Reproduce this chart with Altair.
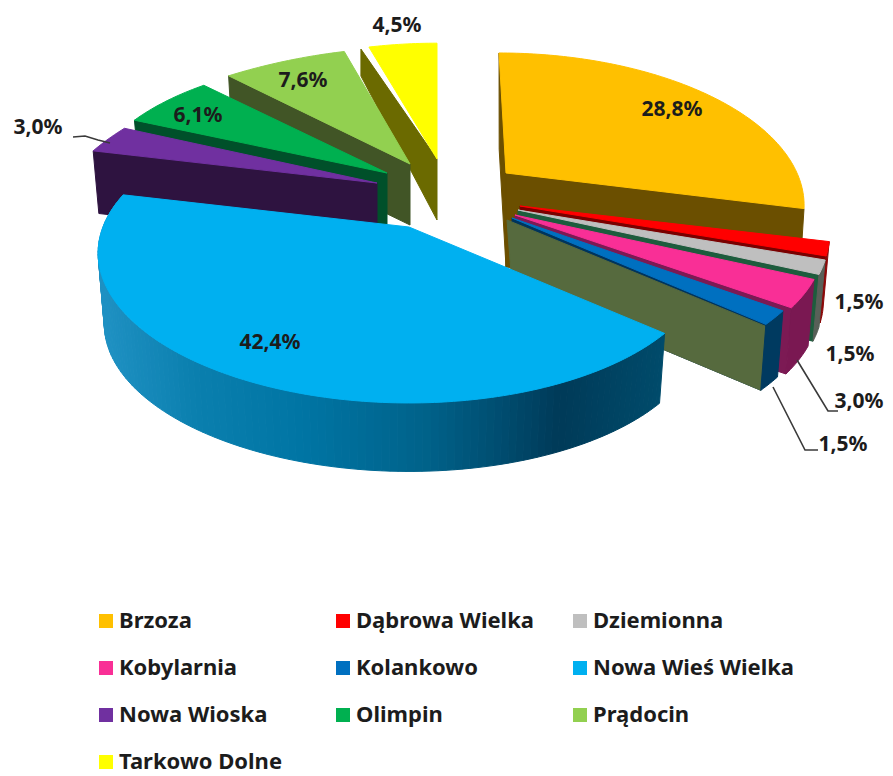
import math
import altair as alt

categories = ["Brzoza", "Dąbrowa Wielka", "Dziemionna", "Kobylarnia", "Kolankowo",
              "Nowa Wieś Wielka", "Nowa Wioska", "Olimpin", "Prądocin", "Tarkowo Dolne"]
shares = [28.8, 1.5, 1.5, 3.0, 1.5, 42.4, 3.0, 6.1, 7.6, 4.5]
face_colors = ["#FFC000", "#FF0000", "#BFBFBF", "#F92F96", "#0070C0",
               "#00B0F0", "#7030A0", "#00B050", "#92D050", "#FFFF00"]

PERSP = 0.189
RY = 142.7
BASE = 0.98
#  apex x, apex y, rx at start, rx at end, lean, wall depth, vertical squeeze
GEOM = {
    "Brzoza": (506, 173, 291, 291, 0.058, 94, 1),
    "Dąbrowa Wielka": (520, 206, 304, 304, 0, 68, 1),
    "Dziemionna": (518, 210, 305, 305, 0, 68, 1),
    "Kobylarnia": (515, 215, 303, 302, 0, 68, 1),
    "Kolankowo": (512, 218, 296, 294, 0, 68, 1),
    "Nowa Wieś Wielka": (409, 227, 296, 307, 0, 72, 1),
    "Nowa Wioska": (377, 183, 305, 299, 0, 62, 1),
    "Olimpin": (387, 173, 299, 302, 0, 54, 0.965),
    "Prądocin": (410, 164, 299, 278, 0, 61, 0.97),
    "Tarkowo Dolne": (437, 159, 288, 288, 0, 61, 0.965),
}
RADIAL_SHADE = {
    "Brzoza": "#6B4F00", "Dąbrowa Wielka": "#7A0000", "Dziemionna": "#1D5C3D",
    "Kobylarnia": "#7C1A54", "Kolankowo": "#00345C", "Nowa Wioska": "#2E1340",
    "Olimpin": "#00502A", "Prądocin": "#415526", "Tarkowo Dolne": "#6B6A00",
}
OUTER_SHADE = {"Dąbrowa Wielka": "#8A0808", "Dziemionna": "#586058",
               "Kobylarnia": "#7A1852", "Kolankowo": "#003A60"}
KOLANKOWO_SIDE = "#566A3E"
BLUE_RAMP = [(95, (32, 146, 196)), (195, (10, 127, 174)), (300, (0, 117, 164)),
             (425, (0, 98, 138)), (500, (0, 77, 112)), (560, (0, 58, 88)),
             (670, (0, 76, 108))]
BACK_TO_FRONT = ["Tarkowo Dolne", "Prądocin", "Olimpin", "Nowa Wioska", "Brzoza",
                 "Dąbrowa Wielka", "Dziemionna", "Kobylarnia", "Kolankowo", "Nowa Wieś Wielka"]

LABEL_POS = {
    "Brzoza": (672, 110), "Dąbrowa Wielka": (859, 303), "Dziemionna": (850, 355),
    "Kobylarnia": (859, 402), "Kolankowo": (843, 445), "Nowa Wieś Wielka": (270, 343),
    "Nowa Wioska": (38, 128), "Olimpin": (198, 116), "Prądocin": (303, 81),
    "Tarkowo Dolne": (397, 26),
}
LEADERS = {
    "a": [(73, 137), (85, 136), (98, 140), (110, 143)],
    "b": [(797, 360), (828, 411), (838, 411)],
    "c": [(773, 387), (805, 450), (818, 450)],
}

total = sum(shares)
angles = {}
acc = 0.0
for c, s in zip(categories, shares):
    angles[c] = (acc / total * 360, (acc + s) / total * 360)
    acc += s


def rim(cat, deg, bottom=False):
    ax, ay, r0, r1, lean, depth, squeeze = GEOM[cat]
    a0, a1 = angles[cat]
    t = (deg - a0) / (a1 - a0)
    rx = r0 + (r1 - r0) * t
    th = math.radians(deg)
    sc = 1 / (1 + PERSP * math.cos(th))
    dx = rx * math.sin(th) * sc
    dy = -RY * squeeze * math.cos(th) * sc
    dx += lean * dy
    if bottom:
        return (ax + dx * BASE, ay + dy * BASE + depth)
    return (ax + dx, ay + dy)


def apex(cat, bottom=False):
    ax, ay, _, _, _, depth, _ = GEOM[cat]
    return (ax, ay + depth) if bottom else (ax, ay)


def steps(a0, a1, n):
    return [a0 + (a1 - a0) * i / n for i in range(n + 1)]


features = []


def add(points, fill):
    ring = [[round(x, 2), round(y, 2)] for x, y in points]
    ring.append(ring[0])
    features.append({"type": "Feature", "properties": {"fill": fill},
                     "geometry": {"type": "Polygon", "coordinates": [ring]}})


def ramp(x):
    for (x0, c0), (x1, c1) in zip(BLUE_RAMP, BLUE_RAMP[1:]):
        if x <= x1:
            t = max(0, (x - x0) / (x1 - x0))
            return "#%02x%02x%02x" % tuple(round(p + (q - p) * t) for p, q in zip(c0, c1))
    return "#%02x%02x%02x" % BLUE_RAMP[-1][1]


for cat in BACK_TO_FRONT:
    a0, a1 = angles[cat]
    if cat == "Nowa Wieś Wielka":
        grid = steps(a0, a1, 120)
        for p, q in zip(grid, grid[1:]):
            top_p, top_q = rim(cat, p), rim(cat, q)
            add([top_p, top_q, rim(cat, q, True), rim(cat, p, True)],
                ramp((top_p[0] + top_q[0]) / 2))
    elif cat == "Brzoza":
        add([rim(cat, a0), apex(cat), apex(cat, True), rim(cat, a0, True)], RADIAL_SHADE[cat])
        add([apex(cat), rim(cat, a1), rim(cat, a1, True), apex(cat, True)], RADIAL_SHADE[cat])
    elif cat == "Tarkowo Dolne":
        c_top = rim(cat, a0)
        add([(c_top[0] - 8, c_top[1] + 2), apex(cat), apex(cat, True),
             (c_top[0] - 8, c_top[1] + 29)], RADIAL_SHADE[cat])
    elif cat in ("Prądocin", "Olimpin", "Nowa Wioska"):
        add([rim(cat, a0), apex(cat), apex(cat, True), rim(cat, a0, True)], RADIAL_SHADE[cat])
    else:
        if cat == "Kolankowo":
            add([apex(cat), rim(cat, a1), rim(cat, a1, True), apex(cat, True)], RADIAL_SHADE[cat])
            add([(apex(cat)[0] - 5, apex(cat)[1] + 2), (rim(cat, a1)[0], rim(cat, a1)[1] + 2),
                 rim(cat, a1, True), apex(cat, True)], KOLANKOWO_SIDE)
        else:
            add([apex(cat), rim(cat, a1), rim(cat, a1, True), apex(cat, True)], RADIAL_SHADE[cat])
        grid = steps(a0, a1, 6)
        add([rim(cat, d) for d in grid] + [rim(cat, d, True) for d in reversed(grid)],
            OUTER_SHADE[cat])
    n = max(8, int(a1 - a0))
    add([apex(cat)] + [rim(cat, d) for d in steps(a0, a1, n)],
        face_colors[categories.index(cat)])

X = alt.Scale(domain=[8, 885], range=[0, 877], nice=False, zero=False)
Y = alt.Scale(domain=[8, 776], range=[0, 768], nice=False, zero=False)

pie = alt.Chart(alt.Data(values=features)).mark_geoshape(strokeWidth=1).encode(
    color=alt.Color("properties.fill:N", scale=None),
    stroke=alt.Stroke("properties.fill:N", scale=None),
).project(type="identity", scale=1, translate=[-8, -8])

label_rows = [{"t": f"{s:.1f}%".replace(".", ","), "x": LABEL_POS[c][0], "y": LABEL_POS[c][1]}
              for c, s in zip(categories, shares)]
labels = alt.Chart(alt.Data(values=label_rows)).mark_text(
    font="Noto Sans", fontWeight="bold", fontSize=21, color="#1c1c1c"
).encode(x=alt.X("x:Q", scale=X, axis=None), y=alt.Y("y:Q", scale=Y, axis=None), text="t:N")

leader_rows = [{"k": k, "i": i, "x": p[0], "y": p[1]} for k, pts in LEADERS.items() for i, p in enumerate(pts)]
leaders = alt.Chart(alt.Data(values=leader_rows)).mark_line(color="#3a3a3a", strokeWidth=1.6).encode(
    x=alt.X("x:Q", scale=X, axis=None), y=alt.Y("y:Q", scale=Y, axis=None),
    detail="k:N", order="i:Q")

legend_rows = [{"c": c} for c in categories]
legend = alt.Chart(alt.Data(values=legend_rows)).mark_point(filled=True, size=0, shape="square", opacity=1).encode(
    x=alt.value(0), y=alt.value(0),
    color=alt.Color("c:N", sort=categories,
                    scale=alt.Scale(domain=categories, range=face_colors),
                    legend=alt.Legend(
                        title=None, orient="none", legendX=87, legendY=602, columns=3,
                        symbolType="square", symbolSize=196, symbolStrokeWidth=0, symbolOpacity=1,
                        labelFont="Noto Sans", labelFontWeight="bold", labelFontSize=22,
                        labelColor="#1c1c1c", labelOffset=2, labelLimit=300,
                        gridAlign="all", columnPadding=11, rowPadding=25,
                        direction="horizontal")),
)

chart = alt.layer(pie, leaders, labels, legend).properties(
    width=877, height=768, padding=0,
    autosize=alt.AutoSizeParams(type="none"),
).configure_view(stroke=None).resolve_scale(color="independent")

chart.save("out.html", embed_options={"renderer": "svg", "actions": False})
